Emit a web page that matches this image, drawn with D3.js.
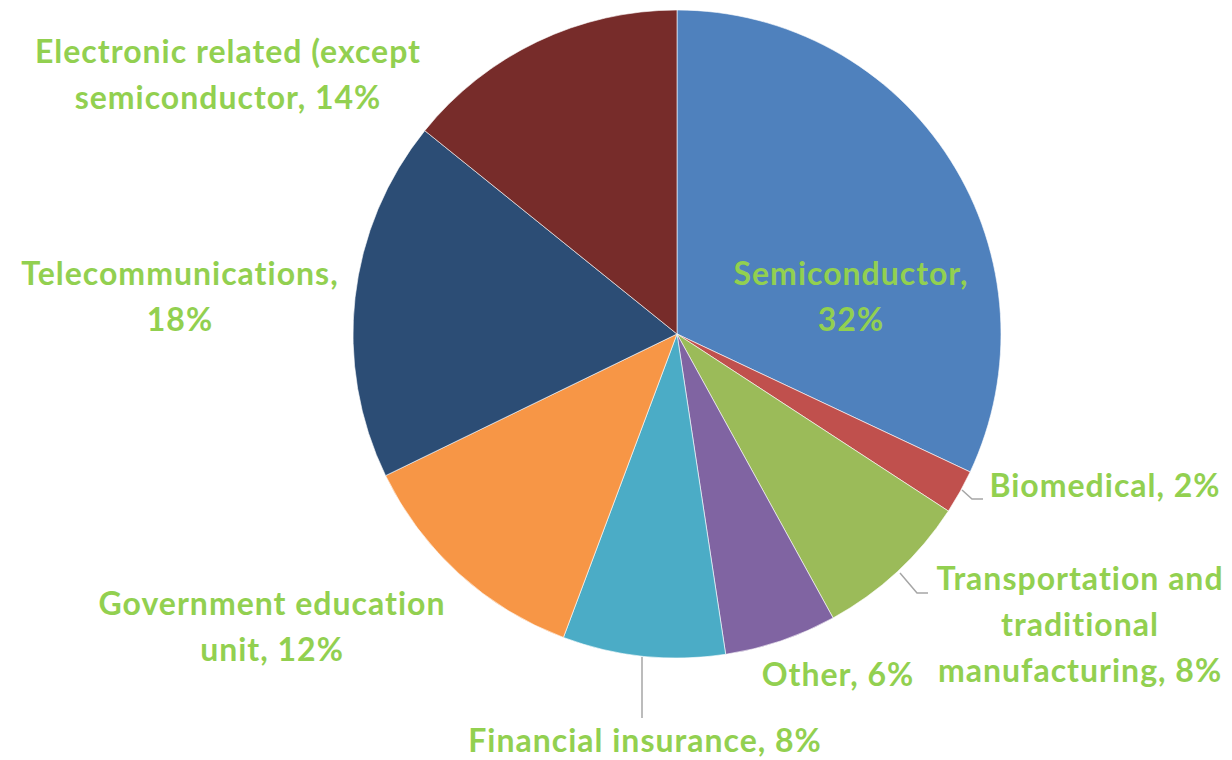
<!DOCTYPE html>
<html>
<head>
<meta charset="utf-8">
<script src="https://cdn.jsdelivr.net/npm/d3@7"></script>
<style>
body{margin:0;background:#fff;}
text{font-family:Lato,"Open Sans",sans-serif;font-weight:bold;fill:#92D050;}
</style>
</head>
<body>
<svg id="chart" width="1232" height="760"></svg>
<script>
// 行业分布 (clockwise from top)
var categories=["Semiconductor","Biomedical","Transportation and traditional manufacturing","Other","Financial insurance","Government education unit","Telecommunications","Electronic related (except semiconductor"];
var values=[32.0,2.2,7.8,5.6,8.1,12.1,18.0,14.2];
var colors=["#4F81BD","#C0504D","#9BBB59","#8064A2","#4BACC6","#F79646","#2C4D75","#772C2A"];
// label lines as drawn in the picture
var labelLines=[
    ["Semiconductor,","32%"],
    ["Biomedical, 2%"],
    ["Transportation and","traditional","manufacturing, 8%"],
    ["Other, 6%"],
    ["Financial insurance, 8%"],
    ["Government education","unit, 12%"],
    ["Telecommunications,","18%"],
    ["Electronic related (except","semiconductor, 14%"]
];
var labelPos=[[851,285],[1105,497],[1080,590],[838,686],[645,752],[272,615],[180,285],[228,63]];
var leaders=[null,[[962,490],[972,499],[983,499]],[[900,573],[917,593],[928,593]],null,[[642,657],[642,718]],null,null,null];

var svg=d3.select("#chart");
var cx=677,cy=334,r=324;
var g=svg.append("g").attr("transform","translate("+cx+","+cy+")");

var data=categories.map(function(c,i){return {name:c,value:values[i],color:colors[i],idx:i};});
var pie=d3.pie().sort(null).value(function(d){return d.value;});
var arc=d3.arc().innerRadius(0).outerRadius(r);

g.selectAll("path")
    .data(pie(data))
    .enter().append("path")
    .attr("d",arc)
    .attr("fill",function(d){return d.data.color;})
    .attr("stroke","#fff")
    .attr("stroke-width",0.6);

// 引导线
var line=d3.line();
leaders.forEach(function(l){
    if(!l) return;
    svg.append("path")
        .attr("d",line(l))
        .attr("fill","none")
        .attr("stroke","#A6A6A6")
        .attr("stroke-width",1.5);
});

// 标签
labelLines.forEach(function(lines,i){
    var t=svg.append("text")
        .attr("x",labelPos[i][0])
        .attr("y",labelPos[i][1])
        .attr("text-anchor","middle")
        .style("font-size","32px")
        .style("letter-spacing","1px");
    lines.forEach(function(s,j){
        t.append("tspan")
            .attr("x",labelPos[i][0])
            .attr("dy",j==0?0:46)
            .text(s);
    });
});
</script>
</body>
</html>
